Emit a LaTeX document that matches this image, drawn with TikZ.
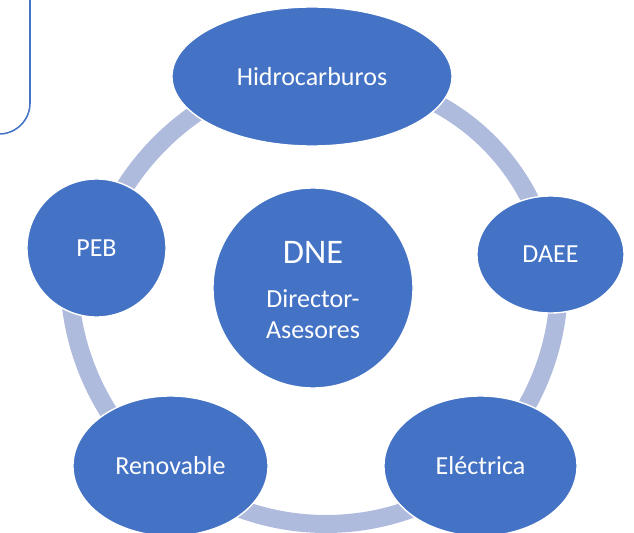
\documentclass[tikz,border=0pt]{standalone}
\usepackage{fontspec}
\setmainfont{Carlito}
\usetikzlibrary{shapes.geometric,backgrounds}
\definecolor{nodeblue}{HTML}{4472C4}
\definecolor{ringblue}{HTML}{AFBBDD}
\tikzset{
    area/.style={ellipse,fill=nodeblue,draw=white,line width=1pt,inner sep=0pt,text=white,font=\fontsize{18.5}{22}\selectfont},
    ring/.style={ringblue,line width=12.8pt,line join=round}
}
\begin{document}
\begin{tikzpicture}[x=0.025cm,y=-0.025cm]
        \useasboundingbox (0,0) rectangle (634,533);
        \clip (0,0) rectangle (634,533);
        \draw[nodeblue,line width=1.1pt,rounded corners=22pt] (-100,-100) rectangle (30,134);
        \node[area,minimum width=7cm,minimum height=3.475cm] (hidro) at (312,76.5) {Hidrocarburos};
        \node[area,minimum width=3.675cm,minimum height=2.925cm] (daee) at (550.5,254.5) {DAEE};
        \node[area,minimum width=4.825cm,minimum height=3.5cm] (electrica) at (480.5,466) {Eléctrica};
        \node[area,minimum width=4.875cm,minimum height=3.5cm] (renovable) at (170.5,466) {Renovable};
        \node[area,minimum width=3.475cm,minimum height=3.45cm] (peb) at (96.5,248) {PEB};
        \node[area,circle,minimum size=5cm,align=center] (dne) at (313,288)
            {{\fontsize{24.5}{29}\selectfont\rule{0pt}{19pt}DNE}\\[9.5pt]Director-\\Asesores};
        \coordinate (c1) at (331,300);
        \coordinate (c2) at (309,283);
        \coordinate (c3) at (326,274);
        \coordinate (c4) at (326,275);
        \coordinate (c5) at (344,327);
        \begin{scope}[on background layer]
            \draw[ring] (hidro.center) -- ([shift={(-68:223)}]c1) arc[start angle=-68,end angle=-20,radius=223] -- (daee.center);
            \draw[ring] (daee.center) -- ([shift={(0:250)}]c2) arc[start angle=0,end angle=35,radius=250] -- (electrica.center);
            \draw[ring] (electrica.center) -- ([shift={(60:250)}]c3) arc[start angle=60,end angle=120,radius=250] -- (renovable.center);
            \draw[ring] (renovable.center) -- ([shift={(140:257)}]c4) arc[start angle=140,end angle=180,radius=257] -- (peb.center);
            \draw[ring] (peb.center) -- ([shift={(-158:260)}]c5) arc[start angle=-158,end angle=-115,radius=260] -- (hidro.center);
        \end{scope}
    \end{tikzpicture}
\end{document}
